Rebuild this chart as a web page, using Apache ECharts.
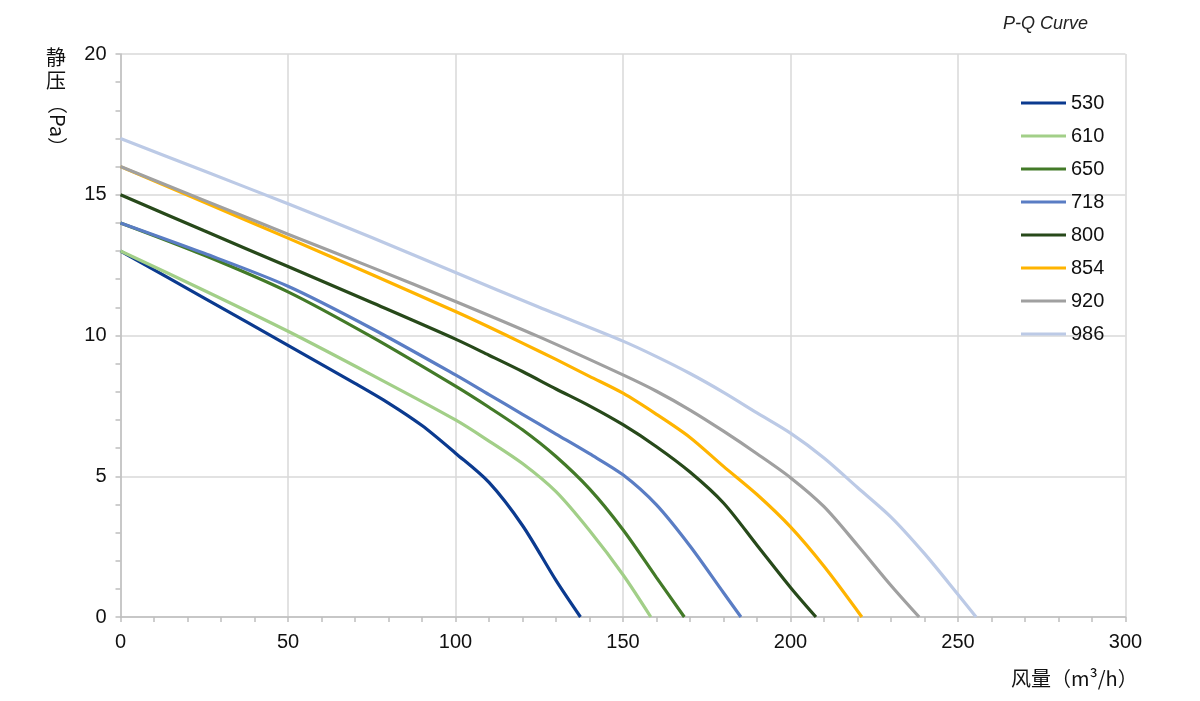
<!DOCTYPE html>
<html>
<head>
<meta charset="utf-8">
<title>P-Q Curve</title>
<script src="https://cdn.jsdelivr.net/npm/echarts@6/dist/echarts.min.js"></script>
<style>
  html, body { margin: 0; padding: 0; background: #fff; }
  #main { width: 1200px; height: 701px; }
</style>
</head>
<body>
<div id="main"></div>
<script>
// series names (legend)
var seriesNames = ['530', '610', '650', '718', '800', '854', '920', '986'];
var lineColors = ['#0b3a8f', '#a2cf88', '#437a28', '#5a7dc4', '#27491a', '#ffb400', '#a0a0a0', '#bccae6'];

// [风量 m3/h, 静压 Pa]
var pq530 = [[0,13],[25,11.33],[50,9.65],[70,8.3],[80,7.6],[90,6.8],[100,5.82],[110,4.78],[120,3.25],[130,1.3],[137.3,0]];
var pq610 = [[0,13],[25,11.6],[50,10.15],[75,8.6],[100,7.0],[110,6.25],[120,5.45],[130,4.45],[140,3.07],[150,1.5],[158.3,0]];
var pq650 = [[0,14],[25,12.85],[50,11.55],[75,9.95],[100,8.2],[110,7.45],[120,6.65],[130,5.7],[140,4.55],[150,3.1],[160,1.4],[168.3,0]];
var pq718 = [[0,14],[25,12.92],[50,11.75],[75,10.25],[100,8.6],[110,7.9],[120,7.2],[130,6.5],[140,5.8],[150,5.05],[160,3.98],[170,2.52],[180,0.86],[185.2,0]];
var pq800 = [[0,15],[25,13.72],[50,12.45],[75,11.17],[100,9.87],[110,9.3],[120,8.72],[130,8.1],[140,7.5],[150,6.83],[160,6.05],[170,5.15],[180,4.05],[190,2.55],[200,1.05],[207.6,0]];
var pq854 = [[0,16],[25,14.73],[50,13.46],[75,12.17],[100,10.85],[110,10.3],[120,9.73],[130,9.15],[140,8.55],[150,7.95],[160,7.2],[170,6.38],[180,5.35],[190,4.35],[200,3.2],[210,1.8],[221.3,0]];
var pq920 = [[0,16],[25,14.8],[50,13.6],[75,12.42],[100,11.21],[125,9.95],[150,8.6],[160,8.02],[170,7.35],[180,6.6],[190,5.8],[200,4.95],[210,3.92],[220,2.55],[230,1.12],[238.4,0]];
var pq986 = [[0,17],[25,15.84],[50,14.68],[75,13.48],[100,12.24],[125,11.0],[150,9.8],[160,9.25],[170,8.65],[180,7.98],[190,7.25],[200,6.53],[210,5.65],[220,4.6],[230,3.55],[240,2.25],[250,0.8],[255.4,0]];
var curves = [pq530, pq610, pq650, pq718, pq800, pq854, pq920, pq986];

var chart = echarts.init(document.getElementById('main'));
var latin = '"Liberation Sans", Arial, sans-serif';
var cjk = '"Noto Sans CJK SC", "Liberation Sans", sans-serif';
var axisGrey = '#bfbfbf';

var option = {
    backgroundColor: '#fff',
    animation: false,
    title: {
        text: 'P-Q Curve',
        left: 998,
        top: 10,
        textStyle: { fontFamily: latin, fontStyle: 'italic', fontWeight: 'normal', fontSize: 18, color: '#222' }
    },
    legend: {
        orient: 'vertical',
        left: 1016,
        top: 88,
        itemWidth: 45,
        itemHeight: 3,
        itemGap: 13,
        icon: 'rect',
        data: seriesNames,
        textStyle: { fontFamily: latin, fontSize: 20, color: '#111', lineHeight: 20 }
    },
    grid: { left: 120.5, right: 74.5, top: 54, bottom: 84, containLabel: false },
    xAxis: {
        type: 'value',
        min: 0,
        max: 300,
        interval: 50,
        axisLine: { lineStyle: { color: axisGrey, width: 1.5 } },
        axisTick: { show: true, length: 5, lineStyle: { color: axisGrey, width: 1.5 } },
        minorTick: { show: true, splitNumber: 5, length: 5, lineStyle: { color: axisGrey, width: 1.5 } },
        splitLine: { show: true, lineStyle: { color: '#d9d9d9', width: 1.5 } },
        axisLabel: { fontFamily: latin, fontSize: 20, color: '#111', margin: 15 }
    },
    yAxis: {
        type: 'value',
        min: 0,
        max: 20,
        interval: 5,
        axisLine: { show: true, lineStyle: { color: axisGrey, width: 1.5 } },
        axisTick: { show: true, length: 5, lineStyle: { color: axisGrey, width: 1.5 } },
        minorTick: { show: true, splitNumber: 5, length: 5, lineStyle: { color: axisGrey, width: 1.5 } },
        splitLine: { show: true, lineStyle: { color: '#d9d9d9', width: 1.5 } },
        axisLabel: { fontFamily: latin, fontSize: 20, color: '#111', margin: 14 }
    },
    graphic: [
        {
            type: 'text', left: 46, top: 46,
            style: { text: '静\n压', fontFamily: cjk, fontSize: 20, lineHeight: 23, fill: '#111' }
        },
        {
            type: 'text', x: 58, y: 94, rotation: -Math.PI / 2,
            style: { text: '（Pa）', fontFamily: cjk, fontSize: 20, fill: '#111', align: 'left', verticalAlign: 'middle' }
        },
        {
            type: 'text', x: 1011, y: 678,
            style: { text: '风量（m³/h）', fontFamily: cjk, fontSize: 20, fill: '#111', align: 'left', verticalAlign: 'middle' }
        }
    ],
    series: seriesNames.map(function (name, i) {
        return {
            name: name,
            type: 'line',
            smooth: 0.3,
            showSymbol: false,
            symbol: 'none',
            data: curves[i],
            color: lineColors[i],
            lineStyle: { width: 3.2, color: lineColors[i] }
        };
    })
};
chart.setOption(option);
</script>
</body>
</html>
